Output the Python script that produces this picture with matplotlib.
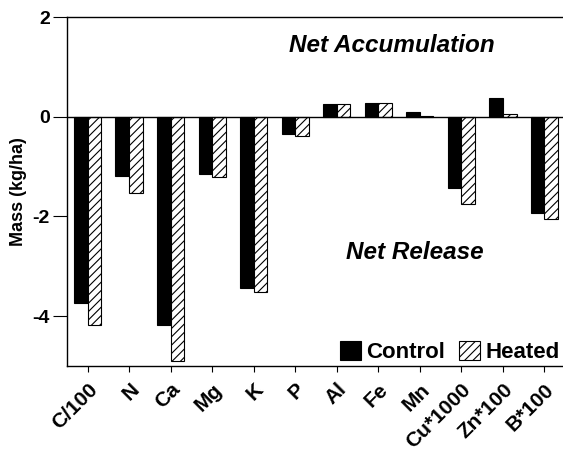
import numpy as np
import matplotlib
matplotlib.use('Agg')
import matplotlib.pyplot as plt

plt.rcParams['font.family'] = ['Liberation Sans', 'DejaVu Sans']
plt.rcParams['hatch.linewidth'] = 0.8

# Data
elements = ['C/100', 'N', 'Ca', 'Mg', 'K', 'P', 'Al', 'Fe', 'Mn', 'Cu*1000', 'Zn*100', 'B*100']
control = [-3.73, -1.19, -4.17, -1.15, -3.43, -0.34, 0.25, 0.28, 0.09, -1.42, 0.38, -1.93]
heated = [-4.18, -1.53, -4.89, -1.21, -3.52, -0.38, 0.26, 0.28, 0.01, -1.76, 0.06, -2.06]

fig = plt.figure(figsize=(5.63, 4.51), dpi=100)
ax = fig.add_axes([66.5 / 563, 85 / 451, 1 - 66.5 / 563, (366 - 17) / 451])

x = np.arange(len(elements))
width = 0.33

ax.bar(x - width / 2, control, width, color='black', edgecolor='black',
       linewidth=0.8, label='Control')
ax.bar(x + width / 2, heated, width, color='white', edgecolor='black',
       linewidth=0.8, hatch='////', label='Heated')

ax.axhline(0, color='black', linewidth=1.0)

ax.set_ylim(-5, 2)
ax.set_xlim(-0.51, 11.45)
ax.set_yticks([2, 0, -2, -4])
ax.set_yticklabels(['2', '0', '-2', '-4'], fontsize=14, fontweight='bold')
ax.set_xticks(x)
ax.set_xticklabels(elements, rotation=45, ha='right', rotation_mode='anchor',
                   fontsize=15, fontweight='bold')
ax.tick_params(axis='y', direction='out', length=10, width=0.8, pad=2)
ax.tick_params(axis='x', direction='out', length=4, width=0.8, pad=6)

ax.spines['right'].set_visible(False)
for s in ['left', 'top', 'bottom']:
    ax.spines[s].set_linewidth(1.0)

ax.set_ylabel('Mass (kg/ha)', fontsize=13, fontweight='bold', labelpad=4)

ax.text(7.33, 1.42, 'Net Accumulation', fontsize=17.5, fontweight='bold',
        style='italic', ha='center', va='center')
ax.text(7.89, -2.72, 'Net Release', fontsize=17.5, fontweight='bold',
        style='italic', ha='center', va='center')

ax.legend(loc='lower right', bbox_to_anchor=(1.02, -0.03), frameon=False,
          ncol=2, prop={'weight': 'bold', 'size': 16},
          handlelength=0.95, handleheight=0.95, handletextpad=0.25,
          columnspacing=0.6, borderaxespad=0.2)

fig.savefig('out.png', dpi=100, facecolor='white')
